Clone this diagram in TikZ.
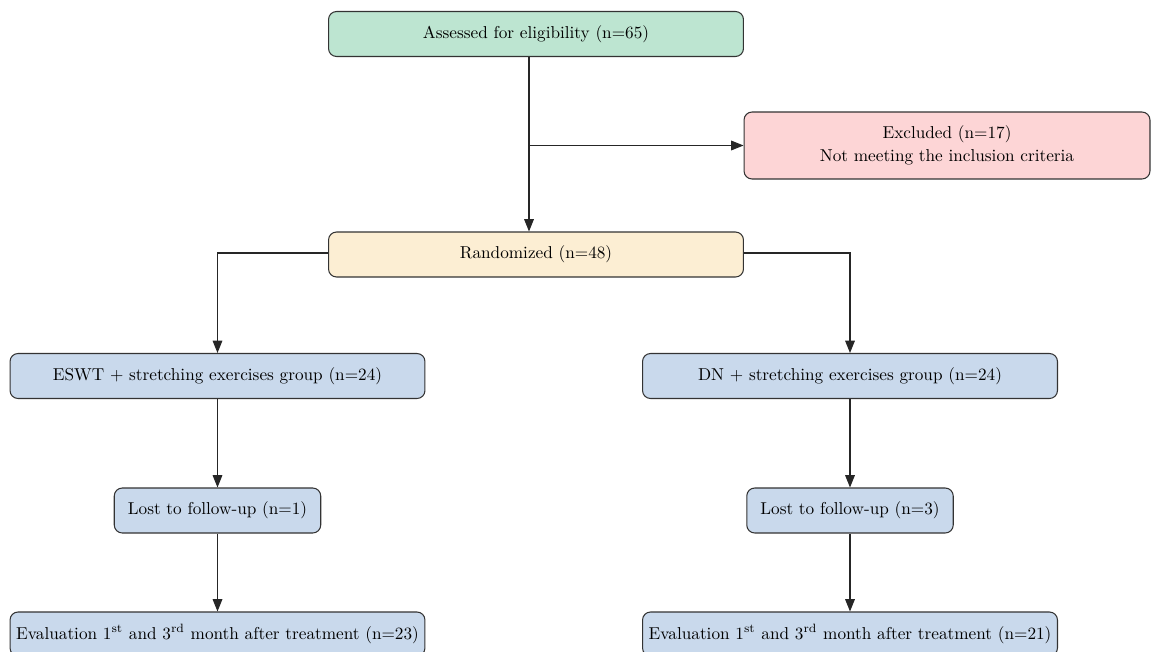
\documentclass[tikz,border=0pt]{standalone}
\usepackage{tikz}
\usetikzlibrary{arrows.meta,positioning,calc}
\definecolor{boxgreen}{HTML}{BDE5D1}
\definecolor{boxred}{HTML}{FDD5D6}
\definecolor{boxyellow}{HTML}{FCEED3}
\definecolor{boxblue}{HTML}{C9D9EC}
\begin{document}
\begin{tikzpicture}[x=0.02cm,y=-0.02cm,
	box/.style={draw=black!80,line width=0.6pt,rounded corners=0.16cm,align=center,inner sep=0pt,font=\fontsize{9.8}{12.8}\selectfont},
	wide/.style={box,minimum width=8.3cm,minimum height=0.9cm},
	narrow/.style={box,minimum width=4.13cm,minimum height=0.9cm},
	arr/.style={-{Triangle[length=7pt,width=5.5pt]},line width=0.6pt,black!85}]
	\useasboundingbox (0,0) rectangle (1152,652);
	% boxes
	\node[wide,fill=boxgreen] (assess) at (536,34) {Assessed for eligibility (n=65)};
	\node[box,fill=boxred,minimum width=8.12cm,minimum height=1.34cm] (excl) at (947,145.5) {Excluded (n=17)\\Not meeting the inclusion criteria};
	\node[wide,fill=boxyellow] (rand) at (536,254.5) {Randomized (n=48)};
	\node[wide,fill=boxblue] (eswt) at (217.5,376) {ESWT + stretching exercises group (n=24)};
	\node[wide,fill=boxblue] (dn) at (850,376) {DN + stretching exercises group (n=24)};
	\node[narrow,fill=boxblue] (lostL) at (217.5,510.5) {Lost to follow-up (n=1)};
	\node[narrow,fill=boxblue] (lostR) at (850,510.5) {Lost to follow-up (n=3)};
	\node[wide,fill=boxblue,minimum height=0.88cm] (evalL) at (217.5,634) {Evaluation 1\textsuperscript{st} and 3\textsuperscript{rd} month after treatment (n=23)};
	\node[wide,fill=boxblue,minimum height=0.88cm] (evalR) at (850,634) {Evaluation 1\textsuperscript{st} and 3\textsuperscript{rd} month after treatment (n=21)};
	% arrows
	\coordinate (br) at (529,145.5);
	\draw[arr] (assess.south -| br) -- (rand.north -| br);
	\draw[arr] (br) -- (excl.west);
	\draw[arr] ($(rand.west)+(0,-1.5)$) -| (eswt.north);
	\draw[arr] ($(rand.east)+(0,-1.5)$) -| (dn.north);
	\draw[arr] (eswt) -- (lostL);
	\draw[arr] (dn) -- (lostR);
	\draw[arr] (lostL) -- (evalL);
	\draw[arr] (lostR) -- (evalR);
\end{tikzpicture}
\end{document}
